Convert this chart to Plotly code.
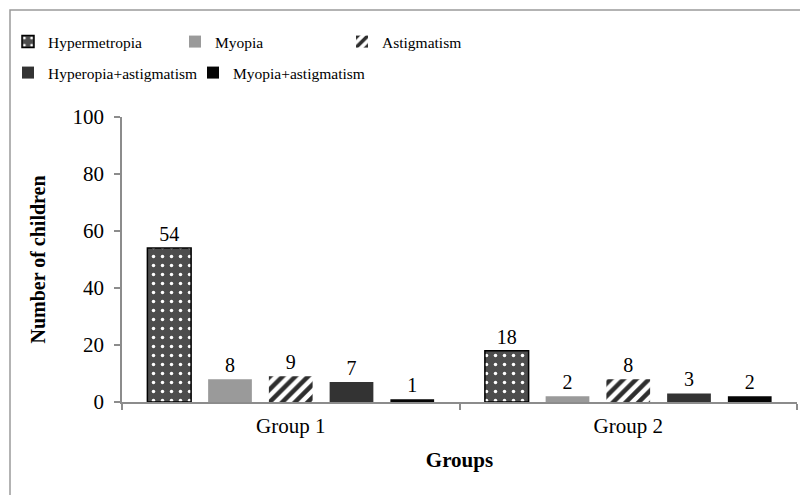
import plotly.graph_objects as go

groups = ["Group 1", "Group 2"]
series_names = ["Hypermetropia", "Myopia", "Astigmatism",
                "Hyperopia+astigmatism", "Myopia+astigmatism"]
hypermetropia = [54, 18]
myopia = [8, 2]
astigmatism = [9, 8]
hyperopia_astig = [7, 3]
myopia_astig = [1, 2]
values = [hypermetropia, myopia, astigmatism, hyperopia_astig, myopia_astig]

y_ticks = [0, 20, 40, 60, 80, 100]

FONT = "Liberation Serif"

styles = [
    dict(color="#4d4d4d", line=dict(color="#000000", width=1.5),
         pattern=dict(shape=".", fgcolor="#ffffff", bgcolor="#4d4d4d",
                      size=9, solidity=0.12, fillmode="replace")),
    dict(color="#9a9a9a", line=dict(width=0)),
    dict(color="#ffffff", line=dict(width=0),
         pattern=dict(shape="/", fgcolor="#2e2e2e", bgcolor="#ffffff",
                      size=9, solidity=0.5, fillmode="replace")),
    dict(color="#333333", line=dict(width=0)),
    dict(color="#050505", line=dict(width=0)),
]
legend_of = ["legend", "legend", "legend", "legend2", "legend2"]
legend_widths = [122, 122, 122, 140, 150]

fig = go.Figure()
for name, vals, st, lg, lw in zip(series_names, values, styles, legend_of, legend_widths):
    fig.add_trace(go.Bar(
        x=groups, y=vals, name=name, marker=st,
        text=[str(v) for v in vals], textposition="outside",
        textfont=dict(family=FONT, size=20, color="#000000"),
        cliponaxis=False, legend=lg, legendwidth=lw,
    ))

# page body has an 8px margin: figure drawn 8px right/down
W, H = 800, 487
L, R, T, B = 114, 11, 109, 93
pw, ph = W - L - R, H - T - B

legend_common = dict(
    orientation="h", xref="container", yref="container",
    xanchor="left", yanchor="middle",
    font=dict(family=FONT, size=15.5, color="#000000"),
    entrywidth=122, entrywidthmode="pixels", itemwidth=30,
    bgcolor="rgba(0,0,0,0)", traceorder="normal",
)

fig.update_layout(
    width=W, height=H,
    margin=dict(l=L, r=R, t=T, b=B, autoexpand=False),
    paper_bgcolor="#ffffff", plot_bgcolor="#ffffff",
    font=dict(family=FONT, color="#000000", size=16),
    barmode="group", bargap=0.1, bargroupgap=0.28,
    legend=dict(x=0, y=1 - 34 / H, **legend_common),
    legend2=dict(x=0, y=1 - 65 / H, **legend_common),
    xaxis=dict(
        type="category", showline=True, linecolor="#8c8c8c", linewidth=1.5,
        ticks="outside", tickson="boundaries", ticklen=6, tickcolor="#8c8c8c",
        tickwidth=1.5, tickfont=dict(family=FONT, size=21, color="#000000"),
        ticklabelstandoff=4, showgrid=False, zeroline=False,
        title=dict(text="<b>Groups</b>", font=dict(family=FONT, size=21),
                   standoff=15),
    ),
    yaxis=dict(
        range=[0, 100], tickvals=y_ticks, showline=True, linecolor="#8c8c8c",
        linewidth=1.5, ticks="outside", ticklen=6, tickcolor="#8c8c8c",
        tickwidth=1.5, tickfont=dict(family=FONT, size=21, color="#000000"),
        ticklabelstandoff=6, showgrid=False, zeroline=False,
        title=dict(text="<b>Number of children</b>",
                   font=dict(family=FONT, size=20), standoff=22),
    ),
    shapes=[dict(
        type="rect", xref="paper", yref="paper",
        x0=(2 - L) / pw, x1=1 + 40 / pw,
        y0=-(B + 40) / ph, y1=1 + (T - 2) / ph,
        line=dict(color="#9a9a9a", width=1.5), fillcolor="rgba(0,0,0,0)",
        layer="below",
    )],
)

fig.write_html("out.html")
